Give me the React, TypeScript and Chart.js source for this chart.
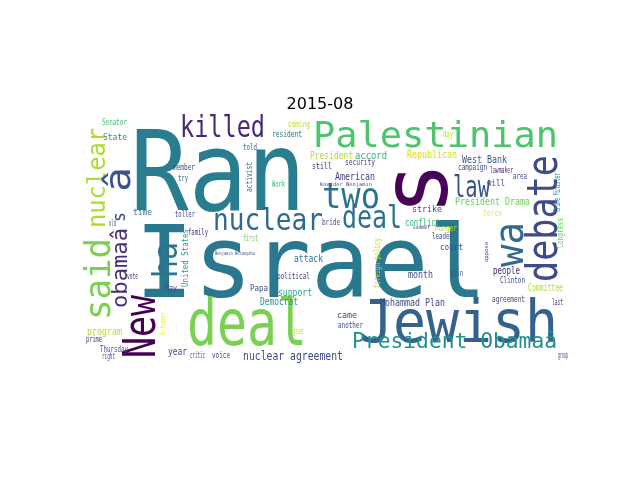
import { useEffect, useRef } from "react";
import { Chart, registerables } from "chart.js";

Chart.register(...registerables);

const TITLE = "2015-08";

// word, left/bottom x, baseline y, font size, extent along text, colour, vertical
const words = [
  "Ran", "Israel", "deal", "Jewish", "Palestinian", "s", "two", "law", "killed", "nuclear",
  "â", "s", "obamaâ", "said", "New", "ha", "nuclear", "deal", "debate", "wa",
  "President Obamaâ", "nuclear agreement", "Senator", "State", "coming", "resident", "told", "member", "try", "activist",
  "Work", "time", "toller", "old", "family", "United States", "first", "Benjamin Netanyahu", "attack", "vote",
  "May", "political", "Papa", "support", "Democrat", "Schumer", "program", "prime", "give", "Thursday",
  "right", "year", "critic", "voice", "day", "President", "accord", "still", "security", "Republican",
  "West Bank", "campaign", "lawmaker", "area", "Crime Minister", "Kneider Benjamin", "American", "will", "President Drama", "strike",
  "force", "bride", "conflict", "summer", "hunger", "leader", "Congress", "oppose", "court", "foreign policy",
  "month", "join", "people", "Clinton", "Committee", "Mohammad Plan", "agreement", "last", "came", "another",
  "group",
];
const xs = [
  130, 135, 187, 360, 313, 447, 322, 453, 180, 105,
  130, 125, 127, 110, 155, 177, 213, 342, 557, 523,
  352, 243, 102, 103, 288, 272, 243, 173, 178, 252,
  272, 133, 175, 109, 188, 188, 243, 215, 294, 127,
  165, 277, 250, 278, 260, 165, 87, 86, 293, 100,
  102, 168, 190, 212, 443, 310, 355, 312, 345, 407,
  462, 458, 490, 513, 560, 320, 335, 487, 455, 412,
  483, 322, 405, 413, 435, 432, 563, 488, 440, 380,
  408, 450, 493, 500, 528, 380, 492, 552, 337, 338,
  558,
];
const ys = [
  210, 297, 345, 342, 147, 215, 208, 197, 137, 228,
  192, 222, 308, 320, 358, 278, 230, 228, 282, 267,
  348, 360, 125, 140, 127, 137, 150, 170, 181, 192,
  187, 215, 217, 226, 235, 287, 241, 255, 262, 279,
  291, 279, 291, 296, 305, 335, 335, 342, 334, 352,
  359, 355, 358, 358, 137, 159, 159, 169, 165, 158,
  163, 170, 173, 179, 212, 186, 180, 186, 205, 212,
  216, 225, 226, 229, 231, 239, 248, 262, 250, 288,
  278, 276, 274, 283, 291, 306, 302, 305, 318, 328,
  358,
];
const sizes = [
  110, 100, 64, 58, 36, 92, 36, 30, 30, 25,
  36, 18, 22, 35, 45, 33, 30, 32, 42, 40,
  22, 12, 9, 9, 9, 9, 9, 9, 9, 9,
  9, 9, 9, 9, 9, 9, 9, 5, 10, 9,
  9, 9, 9, 11, 10, 7, 11, 9, 9, 9,
  9, 11, 9, 9, 9, 11, 11, 9, 9, 11,
  10, 9, 9, 9, 9, 5, 10, 9, 11, 9,
  9, 9, 10, 6, 9, 9, 9, 5, 9, 9,
  10, 9, 10, 9, 10, 11, 9, 9, 9, 9,
  9,
];
const spans = [
  176, 352, 120, 198, 245, 53, 58, 37, 85, 100,
  25, 10, 80, 82, 63, 36, 110, 60, 127, 45,
  205, 100, 25, 24, 22, 30, 14, 22, 10, 30,
  13, 19, 20, 7, 20, 58, 15, 40, 29, 11,
  12, 33, 18, 34, 38, 23, 35, 16, 10, 28,
  13, 19, 15, 18, 10, 43, 32, 20, 30, 50,
  45, 29, 23, 14, 39, 52, 40, 18, 75, 30,
  19, 18, 35, 17, 22, 21, 30, 20, 23, 50,
  25, 13, 27, 25, 35, 65, 33, 11, 20, 25,
  10,
];
const colors = [
  "#287d8e", "#2a788e", "#7ad151", "#33638d", "#4ec36b", "#450457", "#2c728e", "#3b528b", "#482878", "#addc30",
  "#3b528b", "#3e4a89", "#472d7b", "#7ad151", "#440154", "#2c728e", "#31688e", "#2c728e", "#3e4a89", "#31688e",
  "#21918c", "#3e4a89", "#3fbc73", "#21918c", "#b5de2b", "#2c728e", "#31688e", "#3e4a89", "#31688e", "#2a788e",
  "#35b779", "#2c728e", "#3e4a89", "#3b528b", "#472d7b", "#20a386", "#6ccd5a", "#3e4a89", "#2c728e", "#472d7b",
  "#3e4a89", "#443983", "#3e4a89", "#22a884", "#21918c", "#fde725", "#b5de2b", "#472d7b", "#b5de2b", "#3b528b",
  "#3e4a89", "#3e4a89", "#3e4a89", "#3e4a89", "#b5de2b", "#b5de2b", "#35b779", "#482878", "#3e4a89", "#d0e11c",
  "#3b528b", "#3e4a89", "#482878", "#3e4a89", "#21918c", "#3e4a89", "#443983", "#3e4a89", "#6ccd5a", "#3e4a89",
  "#fde725", "#3e4a89", "#35b779", "#3e4a89", "#b5de2b", "#3e4a89", "#6ccd5a", "#3e4a89", "#3e4a89", "#b5de2b",
  "#3e4a89", "#3e4a89", "#482878", "#3e4a89", "#b5de2b", "#3e4a89", "#3e4a89", "#482878", "#3e4a89", "#3e4a89",
  "#3e4a89",
];
const vertical = [
  0, 0, 0, 0, 0, 1, 0, 0, 0, 1,
  1, 1, 1, 1, 1, 1, 0, 0, 1, 1,
  0, 0, 0, 0, 0, 0, 0, 0, 0, 1,
  0, 0, 0, 0, 0, 1, 0, 0, 0, 0,
  0, 0, 0, 0, 0, 1, 0, 0, 0, 0,
  0, 0, 0, 0, 0, 0, 0, 0, 0, 0,
  0, 0, 0, 0, 1, 0, 0, 0, 0, 0,
  0, 0, 0, 0, 0, 0, 1, 1, 0, 1,
  0, 0, 0, 0, 0, 0, 0, 0, 0, 0,
  0,
];

const FONT = '"DejaVu Sans Mono", monospace';

const cloudPlugin = {
  id: "cloud",
  afterDatasetsDraw(chart: any) {
    const { ctx } = chart;
    const sx = chart.scales.x;
    const sy = chart.scales.y;
    ctx.save();
    ctx.textBaseline = "alphabetic";
    ctx.textAlign = "left";
    words.forEach((w, i) => {
      const px = sx.getPixelForValue(xs[i]);
      const py = sy.getPixelForValue(ys[i]);
      ctx.font = `${sizes[i]}px ${FONT}`;
      const m = ctx.measureText(w).width || 1;
      ctx.save();
      ctx.translate(px, py);
      if (vertical[i]) ctx.rotate(-Math.PI / 2);
      ctx.scale(spans[i] / m, 1);
      ctx.fillStyle = colors[i];
      ctx.fillText(w, 0, 0);
      ctx.restore();
    });
    // title
    ctx.fillStyle = "#000";
    ctx.font = '16px "DejaVu Sans", sans-serif';
    ctx.textAlign = "center";
    ctx.fillText(TITLE, 320, 109);
    ctx.restore();
  },
};

export default function App() {
  const canvasRef = useRef<HTMLCanvasElement>(null);

  useEffect(() => {
    document.body.style.margin = "0";
    const ctx = canvasRef.current?.getContext("2d");
    if (!ctx) return;
    const chart = new Chart(ctx, {
      type: "scatter",
      data: { datasets: [{ data: [], pointRadius: 0 }] },
      options: {
        animation: false,
        responsive: false,
        events: [],
        layout: { padding: { left: 80, right: 80, top: 115, bottom: 120 } },
        plugins: { legend: { display: false }, tooltip: { enabled: false } },
        scales: {
          x: { type: "linear", min: 80, max: 560, display: false },
          y: { type: "linear", min: 115, max: 360, reverse: true, display: false },
        },
      },
      plugins: [cloudPlugin],
    } as any);
    return () => chart.destroy();
  }, []);

  return <canvas ref={canvasRef} width={640} height={480} style={{ display: "block" }} />;
}
